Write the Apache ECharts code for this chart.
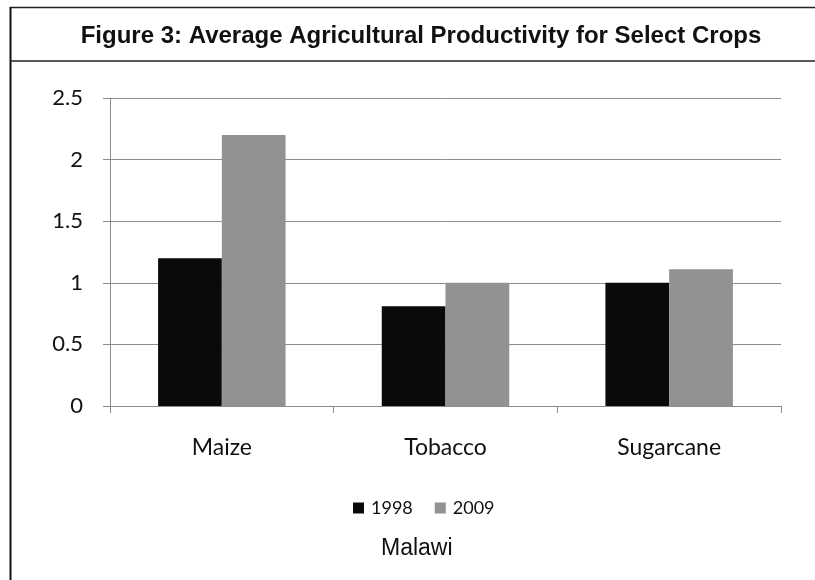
<!DOCTYPE html>
<html>
<head>
<meta charset="utf-8">
<script src="https://cdn.jsdelivr.net/npm/echarts@6/dist/echarts.min.js"></script>
<style>
  html, body { margin: 0; padding: 0; background: #ffffff; }
  #chart { width: 815px; height: 580px; }
</style>
</head>
<body>
<div id="chart"></div>
<script>
// Crop categories and yearly productivity values
const crops = ['Maize', 'Tobacco', 'Sugarcane'];
const years = ['1998', '2009'];
const values1998 = [1.2, 0.81, 1.0];
const values2009 = [2.2, 1.0, 1.11];
const yTicks = { min: 0, max: 2.5, step: 0.5 };

const labelFont = 'Lato, "Open Sans", sans-serif';
const gridGray = '#8c8c8c';

const chart = echarts.init(document.getElementById('chart'));

chart.setOption({
  backgroundColor: '#ffffff',
  animation: false,
  title: {
    text: 'Figure 3: Average Agricultural Productivity for Select Crops',
    left: 416,
    top: 19,
    textAlign: 'center',
    textStyle: {
      fontFamily: '"Liberation Sans", Arial, sans-serif',
      fontSize: 24,
      fontWeight: 'bold',
      color: '#111111'
    }
  },
  graphic: [
    // frame: top edge, left edge and the rule under the heading
    { type: 'line', shape: { x1: 10, y1: 7.5, x2: 815, y2: 7.5 }, style: { stroke: '#222', lineWidth: 1.5 } },
    { type: 'line', shape: { x1: 10.5, y1: 7, x2: 10.5, y2: 580 }, style: { stroke: '#111', lineWidth: 2 } },
    { type: 'line', shape: { x1: 10, y1: 61, x2: 815, y2: 61 }, style: { stroke: '#222', lineWidth: 1.5 } },
    {
      type: 'text',
      left: 381,
      top: 537,
      style: {
        text: 'Malawi',
        fontFamily: '"Liberation Sans", Arial, sans-serif',
        fontSize: 23,
        fill: '#111111'
      }
    }
  ],
  legend: {
    data: years,
    top: 494,
    left: 348,
    icon: 'rect',
    itemWidth: 11,
    itemHeight: 11,
    itemGap: 22,
    textStyle: { fontFamily: labelFont, fontSize: 18, color: '#111', padding: [0, 0, 0, 2] }
  },
  grid: { left: 110, right: 34, top: 98, bottom: 174, containLabel: false },
  xAxis: {
    type: 'category',
    data: crops,
    boundaryGap: true,
    axisLine: { lineStyle: { color: gridGray, width: 1 } },
    axisTick: { show: true, length: 7, lineStyle: { color: gridGray } },
    axisLabel: { fontFamily: labelFont, fontSize: 23, color: '#111', margin: 30 }
  },
  yAxis: {
    type: 'value',
    min: yTicks.min,
    max: yTicks.max,
    interval: yTicks.step,
    axisLine: { show: true, lineStyle: { color: gridGray, width: 1 } },
    axisTick: { show: true, length: 7, lineStyle: { color: gridGray } },
    axisLabel: { fontFamily: labelFont, fontSize: 22, color: '#111', margin: 27 },
    splitLine: { show: true, lineStyle: { color: gridGray, width: 1 } }
  },
  series: [
    {
      name: years[0],
      type: 'bar',
      data: values1998,
      barGap: '0%',
      barCategoryGap: '43%',
      itemStyle: { color: '#0a0a0a' }
    },
    {
      name: years[1],
      type: 'bar',
      data: values2009,
      barGap: '0%',
      barCategoryGap: '43%',
      itemStyle: { color: '#929292' }
    }
  ]
});
</script>
</body>
</html>
